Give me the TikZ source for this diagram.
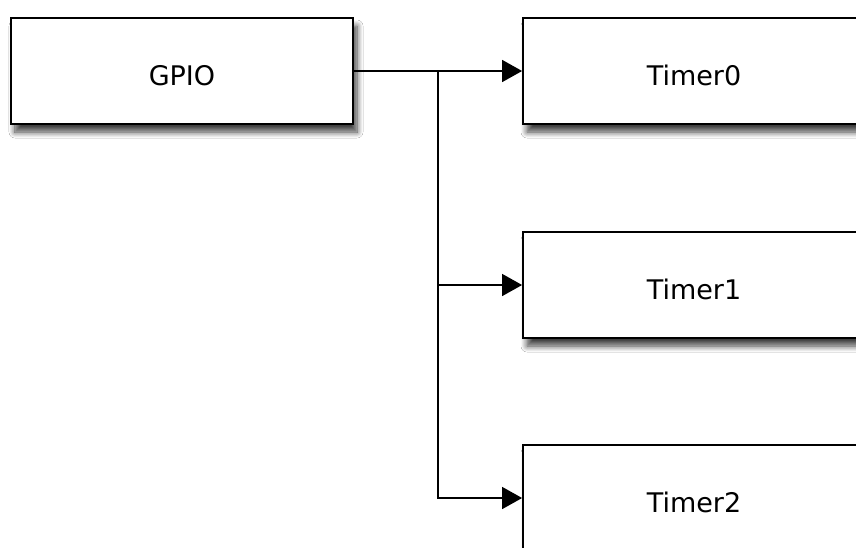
\documentclass[tikz,border=0pt]{standalone}
\usepackage{fontspec}
\setmainfont{DejaVu Sans}
\usetikzlibrary{arrows.meta,shadows.blur}
\begin{document}
\begin{tikzpicture}[x=1pt,y=-1pt,
  block/.style={draw=black, line width=1.8pt, fill=white,
    minimum width=342pt, minimum height=106pt, inner sep=0pt,
    font=\fontsize{27}{32}\selectfont, text height=28pt, text depth=0pt,
    blur shadow={shadow xshift=4pt, shadow yshift=-8pt,
      shadow blur radius=6pt, shadow blur steps=8, shadow opacity=75}},
  conn/.style={draw=black, line width=1.4pt,
    -{Triangle[length=20pt,width=22pt]}}]
\clip (0,0) rectangle (856,547);
\fill[white] (0,0) rectangle (856,547);
\node[block] (gpio) at (182,71) {GPIO};
\node[block] (t0) at (694,71) {Timer0};
\node[block] (t1) at (694,285) {Timer1};
\node[block] (t2) at (694,498) {Timer2};
\coordinate (j) at (438,71);
\draw[conn] (gpio.east) -- (t0.west);
\draw[conn] (j) |- (t1.west);
\draw[conn] (j) |- (t2.west);
\end{tikzpicture}
\end{document}
